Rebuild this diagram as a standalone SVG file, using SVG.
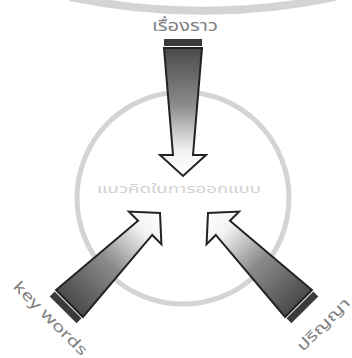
<svg xmlns="http://www.w3.org/2000/svg" width="352" height="358" viewBox="0 0 352 358">
<defs>
<linearGradient id="body" gradientUnits="userSpaceOnUse" x1="0" y1="-128" x2="0" y2="0">
<stop offset="0" stop-color="#4a4a4a"/>
<stop offset="0.45" stop-color="#8c8c8c"/>
<stop offset="0.8" stop-color="#f2f2f2"/>
<stop offset="1" stop-color="#ffffff"/>
</linearGradient>
<g id="arrow">
<rect x="-19" y="-137" width="38" height="7" fill="#3a3a3a"/>
<polygon points="-19,-128 19,-128 10,-21 23,-21 0,0 -23,-21 -10,-21" fill="url(#body)" stroke="#222" stroke-width="2" stroke-linejoin="miter"/>
</g>
</defs>
<style>
.lbl{font-family:"Noto Sans Thai","Noto Sans","DejaVu Sans",sans-serif;fill:#808080;font-size:15px}
.ring{fill:none;stroke:#d4d4d4}
</style>
<rect width="352" height="358" fill="#ffffff"/>
<path class="ring" d="M 70 -3 A 650 650 0 0 0 335 -3" stroke-width="8"/>
<g id="center">
<circle class="ring" cx="183" cy="198" r="106" stroke-width="5"/>
<text x="179" y="193" text-anchor="middle" font-family="'Noto Sans Thai','Noto Sans',sans-serif" font-size="13" fill="#d2d2d2" textLength="164" lengthAdjust="spacingAndGlyphs">แนวคิดในการออกแบบ</text>
</g>
<g id="connectors">
<use href="#arrow" transform="translate(183,176)"/>
<use href="#arrow" transform="translate(160,213) rotate(-135)"/>
<use href="#arrow" transform="translate(208,213) rotate(135)"/>
</g>
<g id="label-top">
<text class="lbl" x="185" y="31" text-anchor="middle" textLength="66" lengthAdjust="spacingAndGlyphs">เรื่องราว</text>
</g>
<g id="label-left">
<text class="lbl" transform="translate(47,322) rotate(45)" text-anchor="middle" textLength="98" lengthAdjust="spacingAndGlyphs">key words</text>
</g>
<g id="label-right">
<text class="lbl" transform="translate(327,328) rotate(-45)" text-anchor="middle" textLength="68" lengthAdjust="spacingAndGlyphs">ปริญญา</text>
</g>
</svg>
